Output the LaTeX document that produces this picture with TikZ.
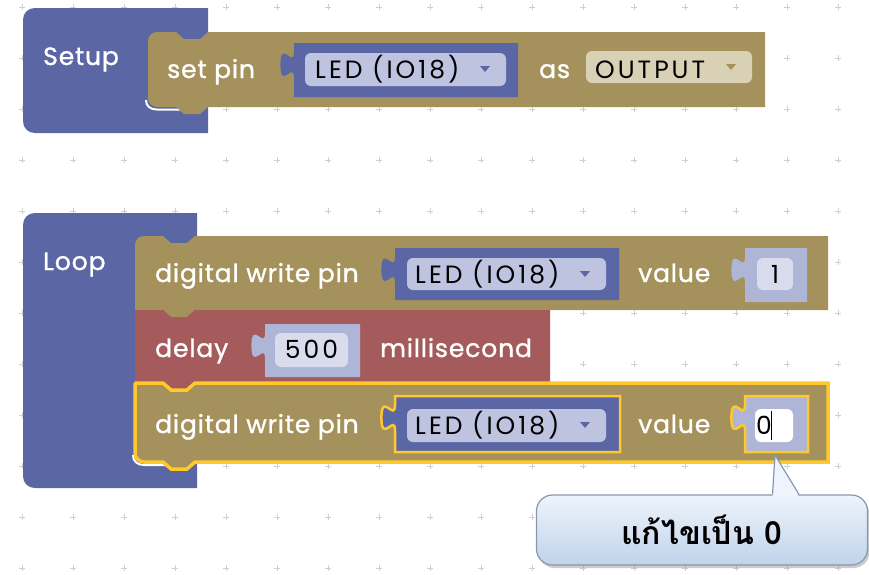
\documentclass[tikz,border=0pt]{standalone}
\usepackage{fontspec}
\newfontfamily\blkfont{Poppins}[FakeBold=1.2, LetterSpace=3.5]
\newfontfamily\fldfont{Poppins}[LetterSpace=12]
\newfontfamily\thaifont[Script=Thai]{Loma}
\usetikzlibrary{shadows}

\definecolor{procblue}{HTML}{5B67A5}
\definecolor{pinolive}{HTML}{A5915B}
\definecolor{delayred}{HTML}{A55B5B}
\definecolor{numlav}{HTML}{AEB5D6}
\definecolor{ddlight}{HTML}{BEC4E0}
\definecolor{ddbeige}{HTML}{D9D1B6}
\definecolor{selyellow}{HTML}{FFC82C}
\definecolor{gridgray}{HTML}{CFCFCF}
\definecolor{notetop}{HTML}{EEF4FB}
\definecolor{notebot}{HTML}{BFD3EA}
\definecolor{noteedge}{HTML}{8797AE}

% statement block: style, x, y, w, h, top-left r, bottom-left r
\newcommand\stmtblock[7]{%
  \path[#1] (#2,{#3+#6}) .. controls (#2,{#3+0.45*#6}) and ({#2+0.45*#6},#3) .. ({#2+#6},#3)
    -- ({#2+28},#3) -- ({#2+36},{#3+7}) -- ({#2+52},{#3+7}) -- ({#2+60},#3)
    -- ({#2+#4},#3) -- ({#2+#4},{#3+#5})
    -- ({#2+60},{#3+#5}) -- ({#2+52},{#3+#5+7}) -- ({#2+36},{#3+#5+7}) -- ({#2+28},{#3+#5})
    -- ({#2+#7},{#3+#5}) .. controls ({#2+0.45*#7},{#3+#5}) and (#2,{#3+#5-0.45*#7}) .. (#2,{#3+#5-#7})
    -- cycle;}
% value block with output tab: style, x, y, w, h
\newcommand\valblock[5]{%
  \path[#1] (#2,#3) -- ({#2+#4},#3) -- ({#2+#4},{#3+#5}) -- (#2,{#3+#5}) -- (#2,{#3+34.5})
    .. controls +(0,-17) and +(0,26.35) .. ++(-13.6,-12.75)
    .. controls +(0,-26.35) and +(0,17) .. ++(13.6,-12.75) -- cycle;}
% event block (Setup / Loop): style, x, y, w, h
\newcommand\hatblock[5]{%
  \path[#1] ({#2+12},#3) -- ({#2+#4},#3) -- ({#2+#4},{#3+#5}) -- ({#2+12},{#3+#5})
    .. controls ({#2+5},{#3+#5}) and (#2,{#3+#5-5}) .. (#2,{#3+#5-12}) -- (#2,{#3+12})
    .. controls (#2,{#3+5}) and ({#2+5},#3) .. ({#2+12},#3) -- cycle;}
% dropdown arrow: colour, x, y
\newcommand\ddarrow[3]{\fill[#1] ({#2-5},{#3-3}) -- ({#2+5},{#3-3}) -- (#2,{#3+3}) -- cycle;}

\begin{document}
\begin{tikzpicture}[x=1pt, y=-1pt,
    lbl/.style={text=white, font=\blkfont\fontsize{25}{30}\selectfont, anchor=base west, inner sep=0pt},
    fieldtxt/.style={text=black, font=\fldfont\fontsize{25}{28}\selectfont, anchor=base west, inner sep=0pt},
    numtxt/.style={fieldtxt, anchor=base},
    dotplus/.style={gridgray, line width=0.9pt},
    ddfield/.style={rounded corners=6pt},
    innerhl/.style={white, line width=2pt},
    note/.style={rounded corners=16pt, minimum width=331pt, minimum height=70pt,
        top color=notetop, bottom color=notebot, draw=noteedge, line width=1.2pt,
        drop shadow={opacity=0.4, shadow xshift=2pt, shadow yshift=-3pt},
        font=\thaifont\bfseries\fontsize{32}{36}\selectfont}
]
    \useasboundingbox (0,0) rectangle (869,574);

    % grid
    \foreach \gx in {22,73,...,838}
        \foreach \gy in {7,58,...,568}
            \draw[dotplus] (\gx-3,\gy) -- (\gx+3,\gy) (\gx,\gy-3) -- (\gx,\gy+3);

    % Setup
    \hatblock{fill=procblue}{23}{8}{185}{125}
    \node[lbl] (setup) at (43,65) {Setup};
    \draw[innerhl] (146,100) .. controls (146,106) and (150,109.5) .. (157,109.5) -- (182,109.5);
    \stmtblock{fill=pinolive}{148}{32}{617}{75}{9}{9}
    \node[lbl] (setpin) at (167,78) {set pin};
    \valblock{fill=procblue}{294}{43}{224}{54}
    \path[ddfield, fill=ddlight] (305,53) rectangle (506,86);
    \node[fieldtxt] (pinled) at (315,78) {LED (IO18)};
    \ddarrow{procblue}{485}{69}
    \node[lbl] (as) at (539,78) {as};
    \path[ddfield, fill=ddbeige] (586,51) rectangle (752,83);
    \node[fieldtxt] (mode) at (595,78) {OUTPUT};
    \ddarrow{pinolive}{731}{67}

    % Loop
    \hatblock{fill=procblue}{23}{213}{174}{275}
    \node[lbl] (loop) at (43,270) {Loop};
    \draw[innerhl] (133,455) .. controls (133,461) and (137,465) .. (144,465) -- (170,465);

    % digital write 1
    \stmtblock{fill=pinolive}{135}{236}{693}{74}{9}{1}
    \node[lbl] (dwa) at (155,282) {digital write pin};
    \valblock{fill=procblue}{395}{248}{224}{52}
    \path[ddfield, fill=ddlight] (407,258) rectangle (606,290);
    \node[fieldtxt] (leda) at (415,283) {LED (IO18)};
    \ddarrow{procblue}{585}{274}
    \node[lbl] (vala) at (638,282) {value};
    \valblock{fill=numlav}{745}{248}{62}{54}
    \path[ddfield, fill=ddlight!60!white] (757,258) rectangle (793,290);
    \node[numtxt] (numa) at (775,283) {1};

    % delay
    \stmtblock{fill=delayred}{135}{310}{415}{73}{1}{1}
    \node[lbl] (delay) at (155,357) {delay};
    \valblock{fill=numlav}{265}{324}{95}{53}
    \path[ddfield, fill=ddlight!60!white] (275,333) rectangle (348,367);
    \node[numtxt] (ms) at (311.5,358) {500};
    \node[lbl] (unit) at (380,357) {millisecond};

    % digital write 0 (selected)
    \stmtblock{fill=pinolive, draw=selyellow, line width=3.5pt}{135}{383}{693}{79}{1}{9}
    \node[lbl] (dwb) at (155,433) {digital write pin};
    \valblock{fill=procblue, draw=selyellow, line width=2.5pt}{395}{396}{225}{56}
    \path[ddfield, fill=ddlight] (407,409) rectangle (606,442);
    \node[fieldtxt] (ledb) at (415,434) {LED (IO18)};
    \ddarrow{procblue}{585}{425}
    \node[lbl] (valb) at (638,433) {value};
    \valblock{fill=numlav, draw=selyellow, line width=2.5pt}{745}{396}{63}{56}
    \path[ddfield, fill=white] (755,409) rectangle (793,442);
    \node[numtxt] (numb) at (764,434) {0};
    \draw[black, line width=0.8pt] (771.5,411) -- (771.5,440);

    % callout
    \node[note] (tipnote) at (702,530) {แก้ไขเป็น 0};
    \coordinate (tipend) at (775,455);
    \fill[notetop] (772.5,497) -- (tipend) -- (799,497) -- cycle;
    \draw[noteedge, line width=1.2pt] (tipnote.north -| 772.5,0) -- (tipend) -- (tipnote.north -| 799,0);
\end{tikzpicture}
\end{document}
